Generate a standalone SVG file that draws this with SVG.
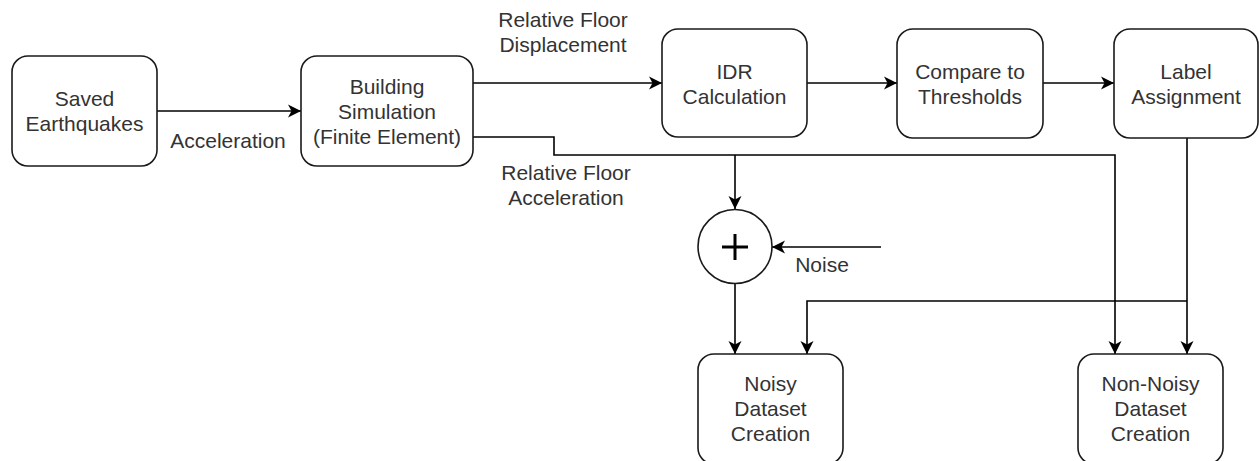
<svg xmlns="http://www.w3.org/2000/svg" width="1259" height="461" viewBox="0 0 1259 461">
  <defs>
    <marker id="arrow" markerUnits="userSpaceOnUse" markerWidth="16" markerHeight="16" viewBox="-14 -8 16 16" refX="0" refY="0" orient="auto">
      <path d="M0,0 L-13,-6.5 L-9.5,0 L-13,6.5 Z" fill="#000"/>
    </marker>
  </defs>
  <style>
    .box { fill: #fff; stroke: #1a1a1a; stroke-width: 1.6; }
    .lbl { font-family: "Liberation Sans", Arial, sans-serif; font-size: 21px; fill: #333; text-anchor: middle; }
    .wire { fill: none; stroke: #000; stroke-width: 1.6; }
    .arr { marker-end: url(#arrow); }
  </style>
  <rect width="1259" height="461" fill="#fff"/>

  <g id="connectors">
    <path class="wire arr" d="M157,111 H301"/>
    <path class="wire arr" d="M473,83 H662"/>
    <path class="wire arr" d="M807,83 H897"/>
    <path class="wire arr" d="M1043,83 H1114"/>
    <path class="wire arr" d="M473,137 H554 V155 H1115 V354"/>
    <path class="wire arr" d="M735,155 V209"/>
    <path class="wire arr" d="M881,247 H772"/>
    <path class="wire arr" d="M735,284 V354"/>
    <path class="wire arr" d="M1187,138 V354"/>
    <path class="wire arr" d="M1187,301 H807 V354"/>
    <text class="lbl" x="228" y="148">Acceleration</text>
    <text class="lbl" x="563" y="27">Relative Floor</text>
    <text class="lbl" x="563" y="52">Displacement</text>
    <text class="lbl" x="566" y="180">Relative Floor</text>
    <text class="lbl" x="566" y="205">Acceleration</text>
    <text class="lbl" x="822" y="272">Noise</text>
  </g>

  <g id="saved-earthquakes">
    <rect class="box" x="12" y="56" width="145" height="110" rx="16"/>
    <text class="lbl" x="84.5" y="106">Saved</text>
    <text class="lbl" x="84.5" y="131">Earthquakes</text>
  </g>

  <g id="building-simulation">
    <rect class="box" x="301" y="56" width="172" height="110" rx="16"/>
    <text class="lbl" x="387" y="94">Building</text>
    <text class="lbl" x="387" y="119">Simulation</text>
    <text class="lbl" x="387" y="144">(Finite Element)</text>
  </g>

  <g id="idr-calculation">
    <rect class="box" x="662" y="29" width="145" height="108" rx="16"/>
    <text class="lbl" x="734.5" y="79">IDR</text>
    <text class="lbl" x="734.5" y="104">Calculation</text>
  </g>

  <g id="compare-thresholds">
    <rect class="box" x="897" y="29" width="146" height="109" rx="16"/>
    <text class="lbl" x="970" y="79">Compare to</text>
    <text class="lbl" x="970" y="104">Thresholds</text>
  </g>

  <g id="label-assignment">
    <rect class="box" x="1114" y="29" width="144" height="109" rx="16"/>
    <text class="lbl" x="1186" y="79">Label</text>
    <text class="lbl" x="1186" y="104">Assignment</text>
  </g>

  <g id="noise-sum">
    <circle class="box" cx="735" cy="246.5" r="37"/>
    <path d="M722,247 H748 M735,234 V260" stroke="#000" stroke-width="3" fill="none"/>
  </g>

  <g id="noisy-dataset">
    <rect class="box" x="698" y="354" width="145" height="110" rx="16"/>
    <text class="lbl" x="770.5" y="391">Noisy</text>
    <text class="lbl" x="770.5" y="416">Dataset</text>
    <text class="lbl" x="770.5" y="441">Creation</text>
  </g>

  <g id="non-noisy-dataset">
    <rect class="box" x="1078" y="354" width="145" height="110" rx="16"/>
    <text class="lbl" x="1150.5" y="391">Non-Noisy</text>
    <text class="lbl" x="1150.5" y="416">Dataset</text>
    <text class="lbl" x="1150.5" y="441">Creation</text>
  </g>
</svg>
